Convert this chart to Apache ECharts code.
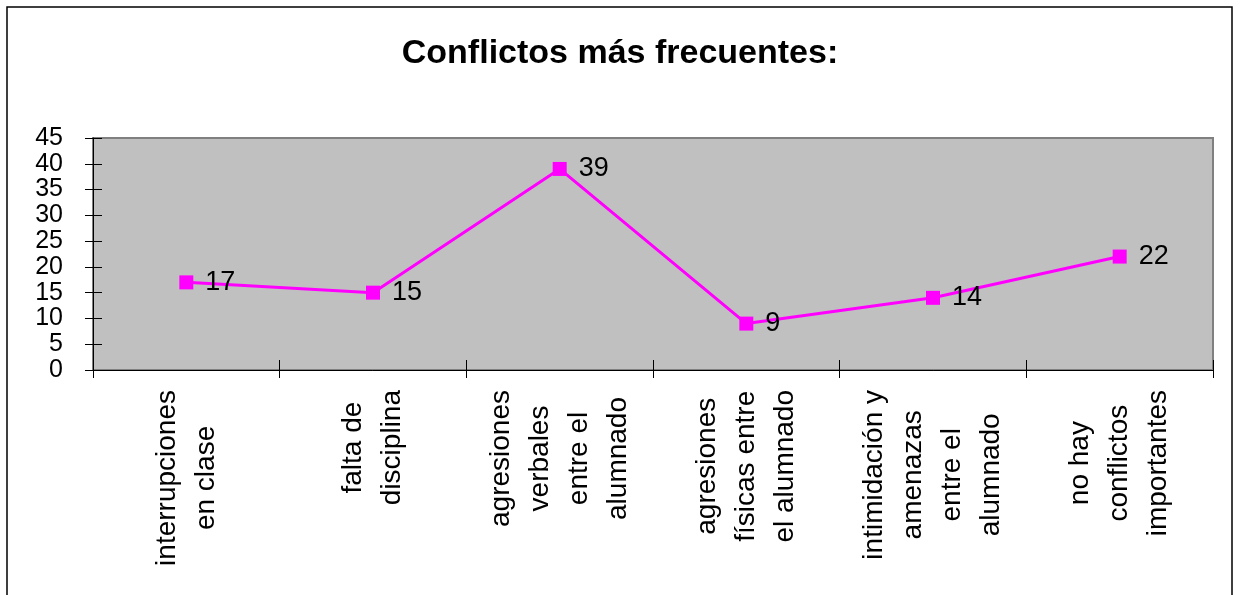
<!DOCTYPE html>
<html>
<head>
<meta charset="utf-8">
<script src="https://cdn.jsdelivr.net/npm/echarts@6/dist/echarts.min.js"></script>
<style>
  html, body { margin: 0; padding: 0; background: #fff; }
  #chart { width: 1240px; height: 595px; }
</style>
</head>
<body>
<div id="chart"></div>
<script>
var categorias = [
  'interrupciones\nen clase',
  'falta de\ndisciplina',
  'agresiones\nverbales\nentre el\nalumnado',
  'agresiones\nfísicas entre\nel alumnado',
  'intimidación y\namenazas\nentre el\nalumnado',
  'no hay\nconflictos\nimportantes'
];
var valores = [17, 15, 39, 9, 14, 22];
var titulo = 'Conflictos más frecuentes:';

var fuente = 'Liberation Sans, Arial, sans-serif';
var chart = echarts.init(document.getElementById('chart'));

// Excel style ticks cross the axis: one axis draws the outer half, a twin the inner half
var option = {
  animation: false,
  backgroundColor: '#fff',
  title: {
    text: titulo,
    left: 'center',
    top: 32,
    textStyle: { fontFamily: fuente, fontSize: 34, fontWeight: 'bold', color: '#000' }
  },
  graphic: [{
    type: 'rect',
    shape: { x: 7, y: 7, width: 1225, height: 620 },
    style: { fill: 'none', stroke: '#000', lineWidth: 1.5 },
    silent: true
  }],
  grid: {
    left: 93, top: 138, right: 27, bottom: 225,
    show: true,
    backgroundColor: '#c0c0c0',
    borderColor: '#808080',
    borderWidth: 2
  },
  xAxis: [{
    type: 'category',
    data: categorias,
    boundaryGap: true,
    axisLine: { lineStyle: { color: '#000', width: 1 } },
    axisTick: { show: true, length: 8, lineStyle: { color: '#000' } },
    axisLabel: {
      interval: 0,
      rotate: 90,
      margin: 20,
      color: '#000',
      formatter: function (v) {
        return v.split('\n').map(function (l) { return '{c|' + l + '}'; }).join('\n');
      },
      rich: {
        c: { align: 'center', fontFamily: fuente, fontSize: 28, lineHeight: 39, color: '#000' }
      }
    }
  }, {
    type: 'category',
    data: categorias,
    position: 'bottom',
    boundaryGap: true,
    axisLine: { show: false },
    axisTick: { show: true, inside: true, length: 10, lineStyle: { color: '#000' } },
    axisLabel: { show: false }
  }],
  yAxis: [{
    type: 'value',
    min: 0, max: 45, interval: 5,
    splitLine: { show: false },
    axisLine: { show: true, lineStyle: { color: '#000', width: 1 } },
    axisTick: { show: true, length: 8, lineStyle: { color: '#000' } },
    axisLabel: {
      margin: 30, fontFamily: fuente, fontSize: 25, color: '#000',
      showMinLabel: true, showMaxLabel: true
    }
  }, {
    type: 'value',
    position: 'left',
    min: 0, max: 45, interval: 5,
    splitLine: { show: false },
    axisLine: { show: false },
    axisTick: { show: true, inside: true, length: 9, lineStyle: { color: '#000' } },
    axisLabel: { show: false }
  }],
  series: [{
    type: 'line',
    data: valores,
    symbol: 'rect',
    symbolSize: 14,
    itemStyle: { color: '#ff00ff' },
    lineStyle: { color: '#ff00ff', width: 3 },
    label: {
      show: true,
      position: 'right',
      distance: 12,
      fontFamily: fuente,
      fontSize: 27,
      color: '#000'
    }
  }]
};
chart.setOption(option);
</script>
</body>
</html>
